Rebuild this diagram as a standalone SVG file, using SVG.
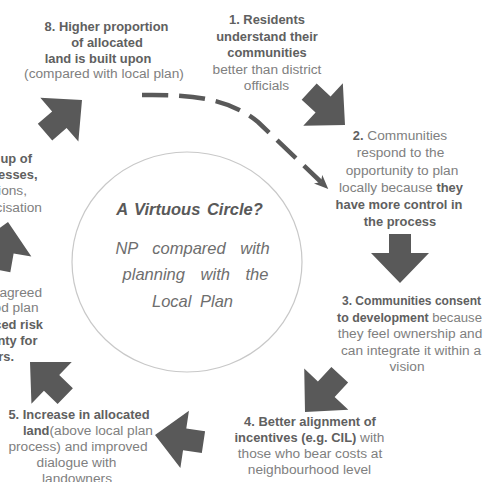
<svg xmlns="http://www.w3.org/2000/svg" width="484" height="482" viewBox="0 0 484 482">
<style>
text{font-family:"Liberation Sans",Arial,sans-serif;text-anchor:middle}
.b{font-weight:bold;font-size:12.9px;fill:#606060}
.r{font-weight:normal;font-size:13.7px;fill:#808080}
.e{text-anchor:end}
.t{font-weight:bold;font-style:italic;font-size:16.5px;fill:#595959;word-spacing:2px}
.i{font-style:italic;font-size:16.5px;fill:#6e6e6e}
.arr{fill:#595959}
.dash{fill:none;stroke:#595959;stroke-width:4.5;stroke-dasharray:26 11}
</style>
<defs>
<polygon id="ba" points="0,0 -30,-29 -30,-11 -49,-11 -49,11 -30,11 -30,29"/>
<marker id="mh" markerUnits="userSpaceOnUse" markerWidth="16" markerHeight="14" refX="4" refY="7" orient="auto"><path d="M0,1 L14,7 L0,13 L4,7 z" fill="#595959"/></marker>
</defs>
<rect width="484" height="482" fill="#ffffff"/>
<g id="connectors">
<use href="#ba" class="arr" transform="translate(345,125) rotate(43)"/>
<use href="#ba" class="arr" transform="translate(400,283) rotate(90)"/>
<use href="#ba" class="arr" transform="translate(305,412) rotate(133) scale(1.04)"/>
<use href="#ba" class="arr" transform="translate(155,435) rotate(188.5)"/>
<use href="#ba" class="arr" transform="translate(30,362) rotate(224)"/>
<use href="#ba" class="arr" transform="translate(8,222) rotate(-80)"/>
<use href="#ba" class="arr" transform="translate(82,100) rotate(-41)"/>
<path class="dash" d="M142,95 C200,94 232,101 258,122 L321,182" marker-end="url(#mh)"/>
</g>
<g id="centre">
<ellipse cx="187" cy="262" rx="115" ry="110" fill="none" stroke="#c8c8c8" stroke-width="1.2"/>
<text class="t" x="189.5" y="215">A Virtuous Circle?</text>
<text class="i" x="192.5" y="254" style="word-spacing:10px">NP compared with</text>
<text class="i" x="195.5" y="280" style="word-spacing:11px">planning with the</text>
<text class="i" x="192.5" y="307" style="word-spacing:4px">Local Plan</text>
</g>
<g id="node1">
<text class="b" x="267" y="24">1. Residents</text>
<text class="b" x="267" y="41">understand their</text>
<text class="b" x="267" y="57">communities</text>
<text class="r" x="267" y="74">better than district</text>
<text class="r" x="266.5" y="90">officials</text>
</g>
<g id="node2">
<text class="b" x="400" y="140">2.<tspan class="r"> Communities</tspan></text>
<text class="r" x="400.5" y="157">respond to the</text>
<text class="r" x="402" y="174.5">opportunity to plan</text>
<text class="r" x="401" y="192">locally because <tspan class="b">they</tspan></text>
<text class="b" x="399" y="209">have more control in</text>
<text class="b" x="400" y="226">the process</text>
</g>
<g id="node3">
<text class="b" x="342" y="305" style="text-anchor:start" textLength="139" lengthAdjust="spacingAndGlyphs">3. Communities consent</text>
<text class="b" x="337" y="322" style="text-anchor:start" textLength="145" lengthAdjust="spacingAndGlyphs">to development<tspan class="r"> because</tspan></text>
<text class="r" x="410" y="338">they feel ownership and</text>
<text class="r" x="411" y="354.5">can integrate it within a</text>
<text class="r" x="407" y="371">vision</text>
</g>
<g id="node4">
<text class="b" x="310" y="426">4. Better alignment of</text>
<text class="b" x="309.5" y="442">incentives (e.g. CIL)<tspan class="r"> with</tspan></text>
<text class="r" x="310" y="458">those who bear costs at</text>
<text class="r" x="309.5" y="474">neighbourhood level</text>
</g>
<g id="node5">
<text class="b" x="79" y="419">5. Increase in allocated</text>
<text class="b" x="88" y="435">land<tspan class="r">(above local plan</tspan></text>
<text class="r" x="78" y="451">process) and improved</text>
<text class="r" x="76.5" y="467">dialogue with</text>
<text class="r" x="77" y="483">landowners</text>
</g>
<g id="node6">
<text class="r e" x="42" y="297">agreed</text>
<text class="r e" x="38.5" y="312">od plan</text>
<text class="b e" x="43" y="328.5">ced risk</text>
<text class="b e" x="37.5" y="344.5">nty for</text>
<text class="b e" x="14" y="360.5">rs.</text>
</g>
<g id="node7">
<text class="b e" x="32" y="163">up of</text>
<text class="b e" x="37.5" y="179">cesses,</text>
<text class="r e" x="27" y="195">tions,</text>
<text class="r e" x="42" y="212">cisation</text>
</g>
<g id="node8">
<text class="b" x="106.5" y="31">8. Higher proportion</text>
<text class="b" x="107" y="47">of allocated</text>
<text class="b" x="98" y="63">land is built upon</text>
<text class="r" x="104" y="78">(compared with local plan)</text>
</g>
</svg>
